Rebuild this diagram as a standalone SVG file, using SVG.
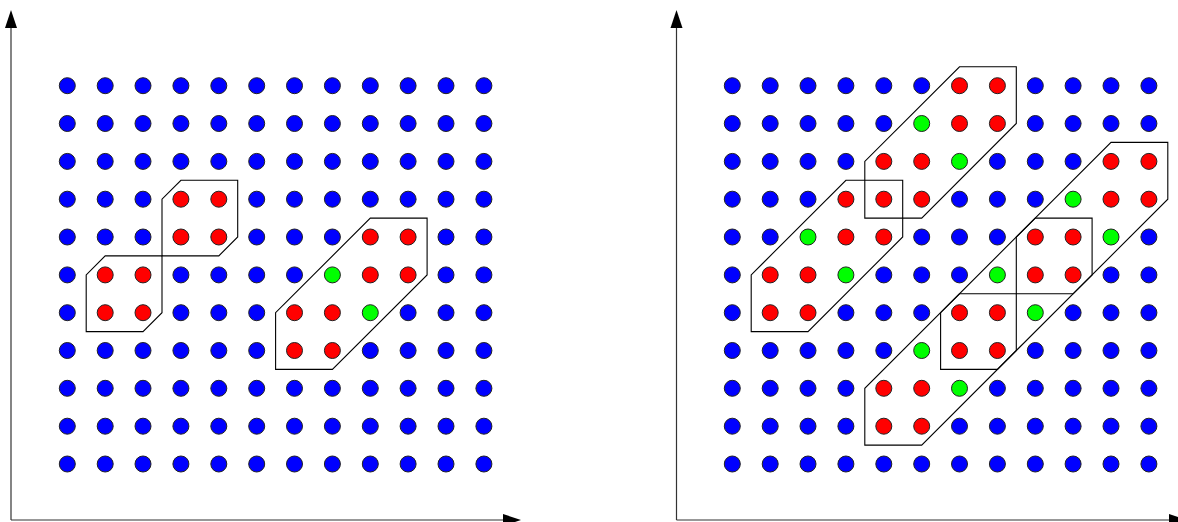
<svg xmlns="http://www.w3.org/2000/svg" xmlns:xlink="http://www.w3.org/1999/xlink" width="1178" height="522" viewBox="0 0 1178 522">
<style>
.b{fill:#0000ff}.r{fill:#ff0000}.g{fill:#00ff00}
.ax{stroke:#333;stroke-width:1.2;fill:none}
.ah{fill:#000;stroke:none}
.hull{fill:none;stroke:#000;stroke-width:1.1;stroke-linejoin:miter}
</style>
<defs>
<circle id="d" r="8" stroke="#222" stroke-width="1"/>
</defs>
<rect width="1178" height="522" fill="#fff"/>
<g id="axes">
<line class="ax" x1="11" y1="520" x2="11" y2="26"/>
<polygon class="ah" points="11,10 5,28 17,28"/>
<line class="ax" x1="11" y1="520" x2="505" y2="520"/>
<polygon class="ah" points="521,520 503,514 503,526"/>
<line class="ax" x1="676.5" y1="520" x2="676.5" y2="26"/>
<polygon class="ah" points="676.5,10 670.5,28 682.5,28"/>
<line class="ax" x1="676.5" y1="520" x2="1171" y2="520"/>
<polygon class="ah" points="1187,520 1169,514 1169,526"/>
</g>
<g id="left-dots">
<g transform="translate(0,85.7)"><use href="#d" x="67.3" class="b"/><use href="#d" x="105.2" class="b"/><use href="#d" x="143" class="b"/><use href="#d" x="180.9" class="b"/><use href="#d" x="218.8" class="b"/><use href="#d" x="256.7" class="b"/><use href="#d" x="294.5" class="b"/><use href="#d" x="332.4" class="b"/><use href="#d" x="370.3" class="b"/><use href="#d" x="408.1" class="b"/><use href="#d" x="446" class="b"/><use href="#d" x="483.9" class="b"/></g>
<g transform="translate(0,123.5)"><use href="#d" x="67.3" class="b"/><use href="#d" x="105.2" class="b"/><use href="#d" x="143" class="b"/><use href="#d" x="180.9" class="b"/><use href="#d" x="218.8" class="b"/><use href="#d" x="256.7" class="b"/><use href="#d" x="294.5" class="b"/><use href="#d" x="332.4" class="b"/><use href="#d" x="370.3" class="b"/><use href="#d" x="408.1" class="b"/><use href="#d" x="446" class="b"/><use href="#d" x="483.9" class="b"/></g>
<g transform="translate(0,161.4)"><use href="#d" x="67.3" class="b"/><use href="#d" x="105.2" class="b"/><use href="#d" x="143" class="b"/><use href="#d" x="180.9" class="b"/><use href="#d" x="218.8" class="b"/><use href="#d" x="256.7" class="b"/><use href="#d" x="294.5" class="b"/><use href="#d" x="332.4" class="b"/><use href="#d" x="370.3" class="b"/><use href="#d" x="408.1" class="b"/><use href="#d" x="446" class="b"/><use href="#d" x="483.9" class="b"/></g>
<g transform="translate(0,199.2)"><use href="#d" x="67.3" class="b"/><use href="#d" x="105.2" class="b"/><use href="#d" x="143" class="b"/><use href="#d" x="180.9" class="r"/><use href="#d" x="218.8" class="r"/><use href="#d" x="256.7" class="b"/><use href="#d" x="294.5" class="b"/><use href="#d" x="332.4" class="b"/><use href="#d" x="370.3" class="b"/><use href="#d" x="408.1" class="b"/><use href="#d" x="446" class="b"/><use href="#d" x="483.9" class="b"/></g>
<g transform="translate(0,237)"><use href="#d" x="67.3" class="b"/><use href="#d" x="105.2" class="b"/><use href="#d" x="143" class="b"/><use href="#d" x="180.9" class="r"/><use href="#d" x="218.8" class="r"/><use href="#d" x="256.7" class="b"/><use href="#d" x="294.5" class="b"/><use href="#d" x="332.4" class="b"/><use href="#d" x="370.3" class="r"/><use href="#d" x="408.1" class="r"/><use href="#d" x="446" class="b"/><use href="#d" x="483.9" class="b"/></g>
<g transform="translate(0,274.9)"><use href="#d" x="67.3" class="b"/><use href="#d" x="105.2" class="r"/><use href="#d" x="143" class="r"/><use href="#d" x="180.9" class="b"/><use href="#d" x="218.8" class="b"/><use href="#d" x="256.7" class="b"/><use href="#d" x="294.5" class="b"/><use href="#d" x="332.4" class="g"/><use href="#d" x="370.3" class="r"/><use href="#d" x="408.1" class="r"/><use href="#d" x="446" class="b"/><use href="#d" x="483.9" class="b"/></g>
<g transform="translate(0,312.7)"><use href="#d" x="67.3" class="b"/><use href="#d" x="105.2" class="r"/><use href="#d" x="143" class="r"/><use href="#d" x="180.9" class="b"/><use href="#d" x="218.8" class="b"/><use href="#d" x="256.7" class="b"/><use href="#d" x="294.5" class="r"/><use href="#d" x="332.4" class="r"/><use href="#d" x="370.3" class="g"/><use href="#d" x="408.1" class="b"/><use href="#d" x="446" class="b"/><use href="#d" x="483.9" class="b"/></g>
<g transform="translate(0,350.5)"><use href="#d" x="67.3" class="b"/><use href="#d" x="105.2" class="b"/><use href="#d" x="143" class="b"/><use href="#d" x="180.9" class="b"/><use href="#d" x="218.8" class="b"/><use href="#d" x="256.7" class="b"/><use href="#d" x="294.5" class="r"/><use href="#d" x="332.4" class="r"/><use href="#d" x="370.3" class="b"/><use href="#d" x="408.1" class="b"/><use href="#d" x="446" class="b"/><use href="#d" x="483.9" class="b"/></g>
<g transform="translate(0,388.3)"><use href="#d" x="67.3" class="b"/><use href="#d" x="105.2" class="b"/><use href="#d" x="143" class="b"/><use href="#d" x="180.9" class="b"/><use href="#d" x="218.8" class="b"/><use href="#d" x="256.7" class="b"/><use href="#d" x="294.5" class="b"/><use href="#d" x="332.4" class="b"/><use href="#d" x="370.3" class="b"/><use href="#d" x="408.1" class="b"/><use href="#d" x="446" class="b"/><use href="#d" x="483.9" class="b"/></g>
<g transform="translate(0,426.2)"><use href="#d" x="67.3" class="b"/><use href="#d" x="105.2" class="b"/><use href="#d" x="143" class="b"/><use href="#d" x="180.9" class="b"/><use href="#d" x="218.8" class="b"/><use href="#d" x="256.7" class="b"/><use href="#d" x="294.5" class="b"/><use href="#d" x="332.4" class="b"/><use href="#d" x="370.3" class="b"/><use href="#d" x="408.1" class="b"/><use href="#d" x="446" class="b"/><use href="#d" x="483.9" class="b"/></g>
<g transform="translate(0,464)"><use href="#d" x="67.3" class="b"/><use href="#d" x="105.2" class="b"/><use href="#d" x="143" class="b"/><use href="#d" x="180.9" class="b"/><use href="#d" x="218.8" class="b"/><use href="#d" x="256.7" class="b"/><use href="#d" x="294.5" class="b"/><use href="#d" x="332.4" class="b"/><use href="#d" x="370.3" class="b"/><use href="#d" x="408.1" class="b"/><use href="#d" x="446" class="b"/><use href="#d" x="483.9" class="b"/></g>
</g>
<g id="right-dots">
<g transform="translate(0,85.7)"><use href="#d" x="732.3" class="b"/><use href="#d" x="770.2" class="b"/><use href="#d" x="808" class="b"/><use href="#d" x="845.9" class="b"/><use href="#d" x="883.8" class="b"/><use href="#d" x="921.7" class="b"/><use href="#d" x="959.5" class="r"/><use href="#d" x="997.4" class="r"/><use href="#d" x="1035.3" class="b"/><use href="#d" x="1073.1" class="b"/><use href="#d" x="1111" class="b"/><use href="#d" x="1148.9" class="b"/></g>
<g transform="translate(0,123.5)"><use href="#d" x="732.3" class="b"/><use href="#d" x="770.2" class="b"/><use href="#d" x="808" class="b"/><use href="#d" x="845.9" class="b"/><use href="#d" x="883.8" class="b"/><use href="#d" x="921.7" class="g"/><use href="#d" x="959.5" class="r"/><use href="#d" x="997.4" class="r"/><use href="#d" x="1035.3" class="b"/><use href="#d" x="1073.1" class="b"/><use href="#d" x="1111" class="b"/><use href="#d" x="1148.9" class="b"/></g>
<g transform="translate(0,161.4)"><use href="#d" x="732.3" class="b"/><use href="#d" x="770.2" class="b"/><use href="#d" x="808" class="b"/><use href="#d" x="845.9" class="b"/><use href="#d" x="883.8" class="r"/><use href="#d" x="921.7" class="r"/><use href="#d" x="959.5" class="g"/><use href="#d" x="997.4" class="b"/><use href="#d" x="1035.3" class="b"/><use href="#d" x="1073.1" class="b"/><use href="#d" x="1111" class="r"/><use href="#d" x="1148.9" class="r"/></g>
<g transform="translate(0,199.2)"><use href="#d" x="732.3" class="b"/><use href="#d" x="770.2" class="b"/><use href="#d" x="808" class="b"/><use href="#d" x="845.9" class="r"/><use href="#d" x="883.8" class="r"/><use href="#d" x="921.7" class="r"/><use href="#d" x="959.5" class="b"/><use href="#d" x="997.4" class="b"/><use href="#d" x="1035.3" class="b"/><use href="#d" x="1073.1" class="g"/><use href="#d" x="1111" class="r"/><use href="#d" x="1148.9" class="r"/></g>
<g transform="translate(0,237)"><use href="#d" x="732.3" class="b"/><use href="#d" x="770.2" class="b"/><use href="#d" x="808" class="g"/><use href="#d" x="845.9" class="r"/><use href="#d" x="883.8" class="r"/><use href="#d" x="921.7" class="b"/><use href="#d" x="959.5" class="b"/><use href="#d" x="997.4" class="b"/><use href="#d" x="1035.3" class="r"/><use href="#d" x="1073.1" class="r"/><use href="#d" x="1111" class="g"/><use href="#d" x="1148.9" class="b"/></g>
<g transform="translate(0,274.9)"><use href="#d" x="732.3" class="b"/><use href="#d" x="770.2" class="r"/><use href="#d" x="808" class="r"/><use href="#d" x="845.9" class="g"/><use href="#d" x="883.8" class="b"/><use href="#d" x="921.7" class="b"/><use href="#d" x="959.5" class="b"/><use href="#d" x="997.4" class="g"/><use href="#d" x="1035.3" class="r"/><use href="#d" x="1073.1" class="r"/><use href="#d" x="1111" class="b"/><use href="#d" x="1148.9" class="b"/></g>
<g transform="translate(0,312.7)"><use href="#d" x="732.3" class="b"/><use href="#d" x="770.2" class="r"/><use href="#d" x="808" class="r"/><use href="#d" x="845.9" class="b"/><use href="#d" x="883.8" class="b"/><use href="#d" x="921.7" class="b"/><use href="#d" x="959.5" class="r"/><use href="#d" x="997.4" class="r"/><use href="#d" x="1035.3" class="g"/><use href="#d" x="1073.1" class="b"/><use href="#d" x="1111" class="b"/><use href="#d" x="1148.9" class="b"/></g>
<g transform="translate(0,350.5)"><use href="#d" x="732.3" class="b"/><use href="#d" x="770.2" class="b"/><use href="#d" x="808" class="b"/><use href="#d" x="845.9" class="b"/><use href="#d" x="883.8" class="b"/><use href="#d" x="921.7" class="g"/><use href="#d" x="959.5" class="r"/><use href="#d" x="997.4" class="r"/><use href="#d" x="1035.3" class="b"/><use href="#d" x="1073.1" class="b"/><use href="#d" x="1111" class="b"/><use href="#d" x="1148.9" class="b"/></g>
<g transform="translate(0,388.3)"><use href="#d" x="732.3" class="b"/><use href="#d" x="770.2" class="b"/><use href="#d" x="808" class="b"/><use href="#d" x="845.9" class="b"/><use href="#d" x="883.8" class="r"/><use href="#d" x="921.7" class="r"/><use href="#d" x="959.5" class="g"/><use href="#d" x="997.4" class="b"/><use href="#d" x="1035.3" class="b"/><use href="#d" x="1073.1" class="b"/><use href="#d" x="1111" class="b"/><use href="#d" x="1148.9" class="b"/></g>
<g transform="translate(0,426.2)"><use href="#d" x="732.3" class="b"/><use href="#d" x="770.2" class="b"/><use href="#d" x="808" class="b"/><use href="#d" x="845.9" class="b"/><use href="#d" x="883.8" class="r"/><use href="#d" x="921.7" class="r"/><use href="#d" x="959.5" class="b"/><use href="#d" x="997.4" class="b"/><use href="#d" x="1035.3" class="b"/><use href="#d" x="1073.1" class="b"/><use href="#d" x="1111" class="b"/><use href="#d" x="1148.9" class="b"/></g>
<g transform="translate(0,464)"><use href="#d" x="732.3" class="b"/><use href="#d" x="770.2" class="b"/><use href="#d" x="808" class="b"/><use href="#d" x="845.9" class="b"/><use href="#d" x="883.8" class="b"/><use href="#d" x="921.7" class="b"/><use href="#d" x="959.5" class="b"/><use href="#d" x="997.4" class="b"/><use href="#d" x="1035.3" class="b"/><use href="#d" x="1073.1" class="b"/><use href="#d" x="1111" class="b"/><use href="#d" x="1148.9" class="b"/></g>
</g>
<g id="hulls">
<polygon id="left-hull-1" class="hull" points="180.9,180.3 237.7,180.3 237.7,237 218.8,255.9 162,255.9 162,199.2"/>
<polygon id="left-hull-2" class="hull" points="105.2,255.9 162,255.9 162,312.7 143,331.6 86.2,331.6 86.2,274.9"/>
<polygon id="left-hull-3" class="hull" points="370.3,218.1 427.1,218.1 427.1,274.9 332.4,369.4 275.6,369.4 275.6,312.7"/>
<polygon id="right-hull-1" class="hull" points="959.5,66.8 1016.3,66.8 1016.3,123.5 921.7,218.1 864.8,218.1 864.8,161.4"/>
<polygon id="right-hull-2" class="hull" points="845.9,180.3 902.7,180.3 902.7,237 808,331.6 751.2,331.6 751.2,274.9"/>
<polygon id="right-hull-3" class="hull" points="1111,142.4 1167.8,142.4 1167.8,199.2 921.7,445.1 864.8,445.1 864.8,388.3"/>
<polygon id="right-hull-4" class="hull" points="1035.3,218.1 1092.1,218.1 1092.1,274.9 1073.1,293.8 1016.3,293.8 1016.3,237"/>
<polygon id="right-hull-5" class="hull" points="959.5,293.8 1016.3,293.8 1016.3,350.5 997.4,369.4 940.6,369.4 940.6,312.7"/>
</g>
</svg>
